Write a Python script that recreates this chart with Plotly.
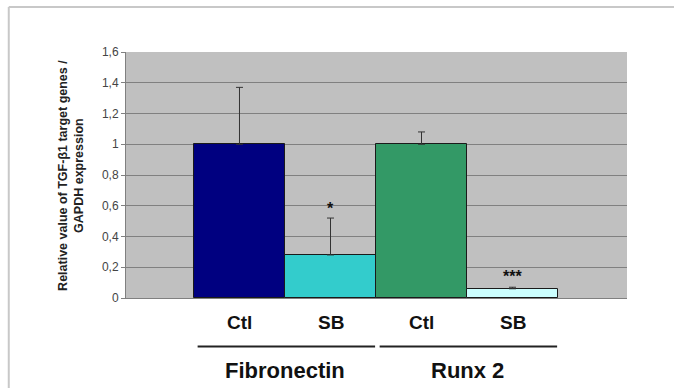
import plotly.graph_objects as go

categories = ["Ctl", "SB", "Ctl", "SB"]
groups = ["Fibronectin", "Runx 2"]
values = [1.0, 0.28, 1.0, 0.06]
err_upper = [0.37, 0.24, 0.08, 0.01]
colors = ["#000080", "#33CCCC", "#339966", "#CCFFFF"]
stars = ["", "*", "", "***"]
star_y = [None, 0.585, None, 0.14]
y_ticks = [0, 0.2, 0.4, 0.6, 0.8, 1.0, 1.2, 1.4, 1.6]

xpos = list(range(len(values)))

fig = go.Figure()
fig.add_trace(go.Bar(
    x=xpos, y=values, width=1.0,
    marker=dict(color=colors, line=dict(color="#1a1a1a", width=1)),
    error_y=dict(type="data", symmetric=False, array=err_upper,
                 arrayminus=[0]*len(values), color="#333333",
                 thickness=1, width=3.5),
    showlegend=False,
))

font_family = "Liberation Sans, Arial, sans-serif"
annotations = []
for i, s in enumerate(stars):
    if s:
        annotations.append(dict(x=xpos[i], y=star_y[i], xref="x", yref="y",
                                text="<b>%s</b>" % s, showarrow=False,
                                font=dict(size=16, color="#111", family=font_family),
                                yanchor="middle"))
for i, c in enumerate(categories):
    annotations.append(dict(x=xpos[i], y=-0.098, xref="x", yref="paper",
                            text="<b>%s</b>" % c, showarrow=False,
                            font=dict(size=19, color="#111", family=font_family),
                            yanchor="middle"))
group_centers = [0.5, 2.5]
for g, cx in zip(groups, group_centers):
    annotations.append(dict(x=cx, y=-0.293, xref="x", yref="paper",
                            text="<b>%s</b>" % g, showarrow=False,
                            font=dict(size=22, color="#111", family=font_family),
                            yanchor="middle"))
annotations.append(dict(x=-0.11, y=0.5, xref="paper", yref="paper",
                        text="<b>Relative value of TGF-β1 target genes /<br>GAPDH expression</b>",
                        textangle=-90, showarrow=False,
                        font=dict(size=12.5, color="#222", family=font_family),
                        xanchor="center", yanchor="middle"))

shapes = [
    dict(type="line", xref="x", yref="paper", x0=-0.46, x1=1.49, y0=-0.197, y1=-0.197,
         line=dict(color="#222", width=2)),
    dict(type="line", xref="x", yref="paper", x0=1.54, x1=3.49, y0=-0.197, y1=-0.197,
         line=dict(color="#222", width=2)),
    # outer frame
    dict(type="line", xref="paper", yref="paper", x0=-0.234, x1=1.1, y0=1.183, y1=1.183,
         line=dict(color="#C8C8C8", width=2)),
    dict(type="line", xref="paper", yref="paper", x0=-0.234, x1=-0.234, y0=1.183, y1=-0.4,
         line=dict(color="#C8C8C8", width=2)),
]

fig.update_layout(
    width=674, height=388,
    margin=dict(l=126, r=47, t=52, b=90),
    paper_bgcolor="white", plot_bgcolor="#C0C0C0",
    separators=",.",
    annotations=annotations, shapes=shapes,
    xaxis=dict(range=[-1.247, 4.258], showticklabels=False, showgrid=False,
               zeroline=False, showline=True, linecolor="#808080", linewidth=1,
               fixedrange=True),
    yaxis=dict(range=[0, 1.6], tickvals=y_ticks, showgrid=True, gridcolor="#808080",
               gridwidth=1, zeroline=False, showline=True, linecolor="#808080",
               ticks="outside", ticklen=4, tickcolor="#808080",
               tickfont=dict(size=12, color="#444", family=font_family),
               fixedrange=True),
    bargap=0,
)

fig.write_html("out.html", config={"displayModeBar": False},
               post_script="document.body.style.margin='0';document.body.style.overflow='hidden';")
